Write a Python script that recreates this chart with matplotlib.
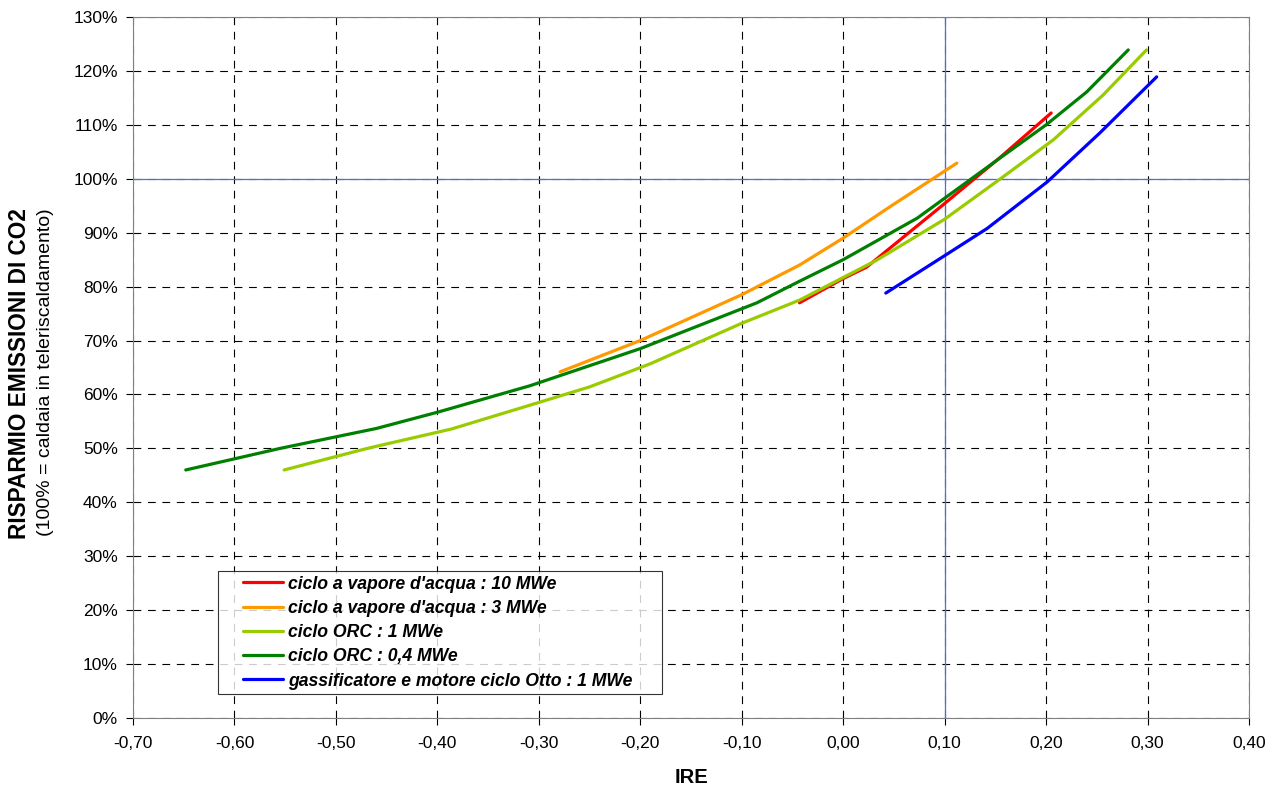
import matplotlib.pyplot as plt
from matplotlib.ticker import FuncFormatter, MultipleLocator
from matplotlib.legend_handler import HandlerLine2D
from matplotlib.lines import Line2D

plt.rcParams['font.family'] = ['Liberation Sans', 'DejaVu Sans']

# IRE vs CO2 savings (%)
vap10_x = [-0.043, 0.0, 0.023, 0.098, 0.155, 0.205]
vap10_y = [77.0, 81.5, 83.6, 95.1, 104.0, 112.2]

vap3_x = [-0.279, -0.20, -0.10, -0.043, 0.0, 0.046, 0.112]
vap3_y = [64.2, 70.0, 78.5, 84.0, 89.0, 94.8, 102.9]

orc1_x = [-0.551, -0.469, -0.386, -0.302, -0.25, -0.19, -0.10, -0.043, 0.033, 0.10, 0.155, 0.207, 0.256, 0.299]
orc1_y = [46.0, 50.0, 53.6, 58.4, 61.4, 65.7, 73.2, 77.5, 84.9, 92.5, 100.0, 107.2, 115.5, 123.9]

orc04_x = [-0.648, -0.555, -0.46, -0.40, -0.309, -0.20, -0.085, -0.043, 0.0, 0.073, 0.152, 0.20, 0.24, 0.281]
orc04_y = [46.0, 50.0, 53.7, 56.7, 61.6, 68.5, 77.0, 81.0, 85.0, 92.7, 103.5, 110.0, 116.1, 123.9]

otto_x = [0.042, 0.098, 0.142, 0.201, 0.253, 0.309]
otto_y = [78.8, 85.5, 90.8, 99.4, 108.5, 118.9]

series = [
    (vap10_x, vap10_y, '#ff0000', "ciclo a vapore d'acqua : 10 MWe"),
    (vap3_x, vap3_y, '#ff9900', "ciclo a vapore d'acqua : 3 MWe"),
    (orc1_x, orc1_y, '#99cc00', "ciclo ORC : 1 MWe"),
    (orc04_x, orc04_y, '#008000', "ciclo ORC : 0,4 MWe"),
    (otto_x, otto_y, '#0000ff', "gassificatore e motore ciclo Otto : 1 MWe"),
]

fig = plt.figure(figsize=(12.79, 7.89), dpi=100)
ax = fig.add_axes([133 / 1279, 71 / 789, 1116 / 1279, 701 / 789])

ax.set_xlim(-0.7, 0.4)
ax.set_ylim(0, 130)
ax.xaxis.set_major_locator(MultipleLocator(0.1))
ax.yaxis.set_major_locator(MultipleLocator(10))
ax.xaxis.set_major_formatter(FuncFormatter(lambda v, p: f"{v:.2f}".replace('.', ',').replace('-0,00', '0,00')))
ax.yaxis.set_major_formatter(FuncFormatter(lambda v, p: f"{v:.0f}%"))
ax.grid(True, color='black', linestyle=(0, (7, 6)), linewidth=0.8)
ax.set_axisbelow(True)
ax.axvline(0.1, color='#4a6fe3', linewidth=0.9, zorder=1.5)
ax.axhline(100, color='#4a6fe3', linewidth=0.9, zorder=1.5)

for xs, ys, c, lab in series:
    ax.plot(xs, ys, color=c, linewidth=2.3, label=lab, solid_capstyle='round')

for s in ax.spines.values():
    s.set_color('#808080')
ax.tick_params(axis='both', labelsize=12.5)
ax.tick_params(axis='x', pad=8, direction='out', length=5)
ax.tick_params(axis='y', direction='out', length=5, pad=6)

ax.set_xlabel('IRE', fontsize=14.5, fontweight='bold', labelpad=12)

fig.text(20 / 1279, 1 - 374 / 789, 'RISPARMIO EMISSIONI DI CO2', rotation=90,
         fontsize=16.3, fontweight='bold', ha='center', va='center')
fig.text(46 / 1279, 1 - 372 / 789, '(100% = caldaia in teleriscaldamento)', rotation=90,
         fontsize=14, ha='center', va='center')

leg = ax.legend(loc='lower left', bbox_to_anchor=(0.076, 0.034, 0.398, 0.174), mode='expand',
                borderaxespad=0, frameon=True, fancybox=False,
                edgecolor='black', prop={'weight': 'bold', 'style': 'italic', 'size': 12.7},
                handlelength=3.46, handletextpad=0.25, labelspacing=0.41, borderpad=0.26,
                handler_map={Line2D: HandlerLine2D(xpad=1.19)})
leg.get_frame().set_linewidth(0.8)

fig.savefig('out.png', dpi=100)
